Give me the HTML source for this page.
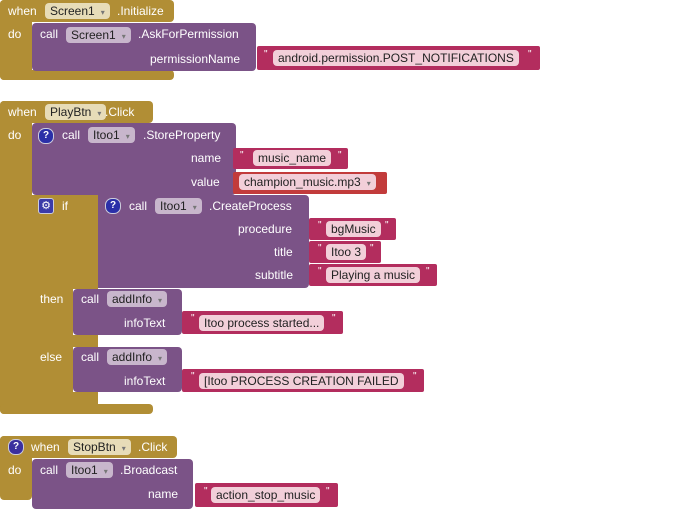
<!DOCTYPE html>
<html><head><meta charset="utf-8"><style>
body{margin:0;width:690px;height:500px;background:#fff;position:relative;overflow:hidden;font-family:"Liberation Sans",Arial,sans-serif;font-size:12px}
.b{position:absolute}
.g{background:#b18e35;border-radius:4px}
.p{background:#7b5387;border-radius:4px}
.k{background:#b32d5e;border-radius:2px}
.r{background:#c23b3b;border-radius:2px}
.t{position:absolute;color:#fff;white-space:nowrap;line-height:15px}
.f{position:absolute;border-radius:4px;color:#222;white-space:nowrap;line-height:16px;padding-left:5px;height:16px}
.fg{background:#e7dcb8}
.fp{background:#c8b6cc}
.fs{background:#f2cfd9}
.fr{background:#f2cfd9}
.dd::after{content:"▾";font-size:8px;color:#777;margin-left:6px;margin-right:5px}
.q{position:absolute;color:#fff;font-size:10px;line-height:10px}
.ic{position:absolute;width:14px;height:14px;border-radius:7px;background:#2a2fa8;color:#fff;font-size:10px;font-weight:bold;text-align:center;line-height:14px;border:1px solid #ccd}
.gear{position:absolute;width:14px;height:14px;border-radius:3px;background:#3a3aa8;color:#fff;font-size:11px;text-align:center;line-height:14px;border:1px solid #ccd}
</style></head><body>

<!-- Block 1 -->
<div class="b g" style="left:0;top:0;width:174px;height:22px"></div>
<div class="b g" style="left:0;top:0;width:32px;height:80px"></div>
<div class="b g" style="left:0;top:70px;width:174px;height:10px"></div>
<div class="t" style="left:8px;top:4px">when</div>
<div class="f fg dd" style="left:45px;top:3px">Screen1</div>
<div class="t" style="left:117px;top:4px">.Initialize</div>
<div class="t" style="left:8px;top:27px">do</div>
<div class="b p" style="left:32px;top:23px;width:224px;height:48px"></div>
<div class="t" style="left:40px;top:27px">call</div>
<div class="f fp dd" style="left:66px;top:27px">Screen1</div>
<div class="t" style="left:138px;top:27px">.AskForPermission</div>
<div class="t" style="left:150px;top:52px">permissionName</div>
<div class="b k" style="left:257px;top:46px;width:283px;height:24px"></div>
<div class="q" style="left:264px;top:50px">"</div>
<div class="f fs" style="left:273px;top:50px;padding-right:5px">android.permission.POST_NOTIFICATIONS</div>
<div class="q" style="left:528px;top:50px">"</div>

<!-- Block 2 -->
<div class="b g" style="left:0;top:101px;width:153px;height:22px"></div>
<div class="b g" style="left:0;top:101px;width:32px;height:313px"></div>
<div class="b g" style="left:0;top:404px;width:153px;height:10px"></div>
<div class="t" style="left:8px;top:105px">when</div>
<div class="f fg dd" style="left:45px;top:104px">PlayBtn</div>
<div class="t" style="left:105px;top:105px">.Click</div>
<div class="t" style="left:8px;top:128px">do</div>

<div class="b p" style="left:32px;top:123px;width:204px;height:72px"></div>
<div class="ic" style="left:38px;top:128px">?</div>
<div class="t" style="left:62px;top:128px">call</div>
<div class="f fp dd" style="left:88px;top:127px">Itoo1</div>
<div class="t" style="left:143px;top:128px">.StoreProperty</div>
<div class="t" style="left:191px;top:151px">name</div>
<div class="t" style="left:191px;top:175px">value</div>
<div class="b k" style="left:233px;top:148px;width:115px;height:21px"></div>
<div class="q" style="left:240px;top:151px">"</div>
<div class="f fs" style="left:253px;top:150px;padding-right:5px">music_name</div>
<div class="q" style="left:338px;top:151px">"</div>
<div class="b r" style="left:233px;top:172px;width:154px;height:22px"></div>
<div class="f fr dd" style="left:239px;top:174px">champion_music.mp3</div>

<!-- if block -->
<div class="b g" style="left:32px;top:195px;width:66px;height:94px;border-radius:0"></div>
<div class="b g" style="left:32px;top:195px;width:41px;height:209px;border-radius:0"></div>
<div class="b g" style="left:32px;top:335px;width:66px;height:12px;border-radius:0"></div>
<div class="b g" style="left:32px;top:392px;width:66px;height:12px;border-radius:0"></div>
<div class="gear" style="left:38px;top:198px">⚙</div>
<div class="t" style="left:62px;top:199px">if</div>
<div class="b p" style="left:98px;top:195px;width:211px;height:93px;border-radius:0 4px 4px 0"></div>
<div class="ic" style="left:105px;top:198px">?</div>
<div class="t" style="left:129px;top:199px">call</div>
<div class="f fp dd" style="left:155px;top:198px">Itoo1</div>
<div class="t" style="left:209px;top:199px">.CreateProcess</div>
<div class="t" style="left:238px;top:222px">procedure</div>
<div class="t" style="left:274px;top:245px">title</div>
<div class="t" style="left:255px;top:268px">subtitle</div>
<div class="b k" style="left:309px;top:218px;width:87px;height:22px"></div>
<div class="q" style="left:318px;top:221px">"</div>
<div class="f fs" style="left:326px;top:221px;padding-right:5px">bgMusic</div>
<div class="q" style="left:385px;top:221px">"</div>
<div class="b k" style="left:309px;top:241px;width:72px;height:22px"></div>
<div class="q" style="left:318px;top:244px">"</div>
<div class="f fs" style="left:326px;top:244px;padding-right:5px">Itoo 3</div>
<div class="q" style="left:370px;top:244px">"</div>
<div class="b k" style="left:309px;top:264px;width:128px;height:22px"></div>
<div class="q" style="left:318px;top:267px">"</div>
<div class="f fs" style="left:326px;top:267px;padding-right:5px">Playing a music</div>
<div class="q" style="left:426px;top:267px">"</div>

<div class="t" style="left:40px;top:292px">then</div>
<div class="b p" style="left:73px;top:289px;width:109px;height:46px"></div>
<div class="t" style="left:81px;top:292px">call</div>
<div class="f fp dd" style="left:107px;top:291px">addInfo</div>
<div class="t" style="left:124px;top:316px">infoText</div>
<div class="b k" style="left:182px;top:311px;width:161px;height:23px"></div>
<div class="q" style="left:191px;top:314px">"</div>
<div class="f fs" style="left:199px;top:315px;padding-right:5px">Itoo process started...</div>
<div class="q" style="left:332px;top:314px">"</div>

<div class="t" style="left:40px;top:350px">else</div>
<div class="b p" style="left:73px;top:347px;width:109px;height:45px"></div>
<div class="t" style="left:81px;top:350px">call</div>
<div class="f fp dd" style="left:107px;top:349px">addInfo</div>
<div class="t" style="left:124px;top:374px">infoText</div>
<div class="b k" style="left:182px;top:369px;width:242px;height:23px"></div>
<div class="q" style="left:191px;top:372px">"</div>
<div class="f fs" style="left:199px;top:373px;padding-right:5px">[Itoo PROCESS CREATION FAILED</div>
<div class="q" style="left:413px;top:372px">"</div>

<!-- Block 3 -->
<div class="b g" style="left:0;top:436px;width:177px;height:22px"></div>
<div class="b g" style="left:0;top:436px;width:32px;height:64px"></div>
<div class="ic" style="left:8px;top:439px;background:#3b2f9e">?</div>
<div class="t" style="left:31px;top:440px">when</div>
<div class="f fg dd" style="left:68px;top:439px">StopBtn</div>
<div class="t" style="left:138px;top:440px">.Click</div>
<div class="t" style="left:8px;top:463px">do</div>
<div class="b p" style="left:32px;top:459px;width:161px;height:50px"></div>
<div class="t" style="left:40px;top:463px">call</div>
<div class="f fp dd" style="left:66px;top:462px">Itoo1</div>
<div class="t" style="left:120px;top:463px">.Broadcast</div>
<div class="t" style="left:148px;top:487px">name</div>
<div class="b k" style="left:195px;top:483px;width:143px;height:24px"></div>
<div class="q" style="left:204px;top:487px">"</div>
<div class="f fs" style="left:211px;top:487px;padding-right:5px">action_stop_music</div>
<div class="q" style="left:326px;top:487px">"</div>
</body></html>
